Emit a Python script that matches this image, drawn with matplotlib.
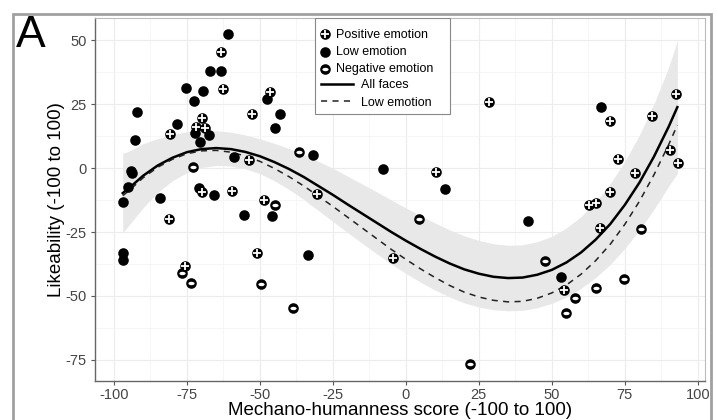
import numpy as np
import matplotlib
matplotlib.use("Agg")
import matplotlib.pyplot as plt
from matplotlib.patches import Rectangle
from matplotlib.path import Path
from matplotlib.legend_handler import HandlerTuple

plt.rcParams["font.family"] = ["Liberation Sans", "DejaVu Sans"]
plt.rcParams["axes.unicode_minus"] = False

# points
pos_x = [-63.3, -62.7, -80.8, -69.8, -71.9, -68.8, -46.6, -52.7, -53.7, -69.9, -59.4,
         -48.6, -30.6, -81.0, -75.5, -51.0, -4.5, 10.3, 28.4, 69.9, 84.2, 92.5, 72.6,
         78.6, 90.4, 93.2, 69.9, 62.7, 65.1, 66.6, 54.0]
pos_y = [45.2, 30.9, 13.3, 19.5, 16.0, 15.8, 29.7, 21.1, 3.0, -9.4, -8.9,
         -12.3, -10.1, -20.1, -38.3, -33.2, -35.2, -1.5, 25.8, 18.4, 20.5, 28.9, 3.5,
         -2.0, 7.0, 2.0, -9.3, -14.5, -13.7, -23.5, -47.7]

low_x = [-60.8, -67.0, -63.4, -75.3, -69.5, -72.6, -92.1, -78.4, -72.3, -67.6, -70.4,
         -92.9, -47.6, -43.2, -44.8, -31.9, -58.9, -94.2, -93.8, -95.2, -96.8, -84.2,
         -70.9, -65.6, -55.3, -46.0, -96.9, -96.9, -33.5, -7.9, 13.4, 41.8, 53.1, 67.0]
low_y = [52.3, 37.9, 37.9, 31.4, 30.0, 26.3, 21.8, 17.2, 13.7, 12.9, 10.2,
         10.9, 27.0, 21.1, 15.6, 5.1, 4.3, -1.2, -2.0, -7.4, -13.2, -11.7,
         -7.8, -10.4, -18.2, -18.8, -33.2, -36.1, -33.9, -0.4, -8.3, -20.7, -42.5, 23.7]

neg_x = [-36.7, -72.8, -44.9, -76.8, -73.5, -49.6, -38.7, 4.5, 21.9, 47.6, 57.9, 54.9,
         65.2, 74.7, 80.6]
neg_y = [6.3, 0.4, -14.4, -41.1, -45.0, -45.3, -54.7, -19.9, -76.6, -36.3, -50.7, -56.6,
         -46.8, -43.4, -23.9]

# fitted curves and band
curve_x = [-97, -95, -90, -85, -80, -75, -70, -65, -60, -55, -50, -45, -40, -35, -30,
           -25, -20, -15, -10, -5, 0, 5, 10, 15, 20, 25, 30, 35, 40, 45, 50, 55, 60,
           65, 70, 75, 80, 85, 90, 93]
all_y = [-9.8, -8.0, -3.0, 1.0, 4.0, 6.2, 7.4, 7.8, 7.4, 6.3, 4.6, 2.3, -0.4, -3.5, -7.0,
         -10.5, -14.2, -17.8, -21.4, -25.0, -28.4, -31.6, -34.6, -37.3, -39.6, -41.3,
         -42.5, -43.0, -42.8, -41.7, -39.8, -36.9, -33.0, -28.0, -21.9, -14.4, -5.7,
         4.5, 16.1, 23.8]
lowem_y = [-10.8, -9.0, -3.8, 0.3, 3.4, 5.6, 6.7, 6.9, 6.2, 4.7, 2.6, -0.2, -3.4, -7.0,
           -11.0, -15.0, -19.2, -23.4, -27.6, -31.8, -35.7, -39.4, -42.8, -45.9, -48.5,
           -50.4, -51.7, -52.3, -52.1, -50.9, -48.8, -45.7, -41.5, -36.2, -29.8, -22.0,
           -13.0, -2.6, 9.1, 16.8]
band_hi = [5.7, 6.5, 9.5, 11.5, 13.0, 14.2, 14.6, 14.6, 14.0, 12.9, 11.4, 9.6, 7.6, 5.3,
           2.6, -0.1, -3.2, -6.2, -9.3, -12.5, -15.6, -18.6, -21.5, -24.2, -26.5, -28.3,
           -29.6, -30.2, -30.0, -28.8, -26.7, -23.4, -19.0, -13.2, -6.1, 2.6, 12.9, 25.1,
           39.3, 49.8]
band_lo = [-25.3, -22.5, -15.5, -9.5, -5.0, -1.8, 0.2, 1.0, 0.8, -0.3, -2.2, -5.0, -8.4,
           -12.3, -16.6, -20.9, -25.2, -29.4, -33.5, -37.5, -41.2, -44.6, -47.7, -50.4,
           -52.7, -54.3, -55.4, -55.8, -55.6, -54.6, -52.9, -50.4, -47.0, -42.8, -37.7,
           -31.4, -24.3, -16.1, -7.1, -2.2]

xticks = [-100, -75, -50, -25, 0, 25, 50, 75, 100]
yticks = [-75, -50, -25, 0, 25, 50]

fig = plt.figure(figsize=(7.17, 4.2), dpi=100)
ax = fig.add_axes([0.1325, 0.093, 0.8505, 0.864])

ax.fill_between(curve_x, band_lo, band_hi, color="#e8e8e8", lw=0, zorder=1)
solid, = ax.plot(curve_x, all_y, color="black", lw=1.8, zorder=2)
dashed, = ax.plot(curve_x, lowem_y, color="#222222", lw=1.1, ls=(0, (4, 3.5)), zorder=2)

t = np.linspace(0, 2 * np.pi, 40)
ell = Path(np.column_stack([np.cos(t), 0.55 * np.sin(t)]))

p1 = ax.scatter(pos_x, pos_y, s=58, color="black", lw=0, zorder=3)
p2 = ax.scatter(pos_x, pos_y, s=40, marker="+", color="white", lw=1.3, zorder=4)
l1 = ax.scatter(low_x, low_y, s=58, color="black", lw=0, zorder=3)
n1 = ax.scatter(neg_x, neg_y, s=58, color="black", lw=0, zorder=3)
n2 = ax.scatter(neg_x, neg_y, s=20, marker=ell, color="white", lw=0, zorder=4)

ax.set_xlim(-106.5, 102.4)
ax.set_ylim(-83.2, 58.6)
ax.set_xticks(xticks)
ax.set_yticks(yticks)
ax.set_xticks([-87.5, -62.5, -37.5, -12.5, 12.5, 37.5, 62.5, 87.5], minor=True)
ax.set_yticks([-62.5, -37.5, -12.5, 12.5, 37.5], minor=True)
ax.grid(True, which="major", color="#ececec", lw=0.8, zorder=0)
ax.grid(True, which="minor", color="#f5f5f5", lw=0.6, zorder=0)
ax.set_axisbelow(True)
ax.tick_params(which="major", length=3, color="#555555", labelsize=10.5,
               labelcolor="#444444", pad=2)
ax.tick_params(axis="y", pad=3)
ax.tick_params(which="minor", length=0)
for side in ["left", "bottom"]:
    ax.spines[side].set_color("#666666")
    ax.spines[side].set_linewidth(1.0)
for side in ["top", "right"]:
    ax.spines[side].set_color("#bbbbbb")
    ax.spines[side].set_linewidth(0.8)

ax.set_xlabel("Mechano-humanness score (-100 to 100)", fontsize=13.5, labelpad=0)
ax.set_ylabel("Likeability (-100 to 100)", fontsize=13.5, labelpad=0)

# legend box made of two parts, like the ggplot one
box = Rectangle((0.3607, 0.7355), 0.2213, 0.2645, transform=ax.transAxes,
                facecolor="white", edgecolor="#888888", lw=0.8, zorder=4.5)
ax.add_patch(box)
leg1 = ax.legend([(p1, p2), l1, (n1, n2)], ["Positive emotion", "Low emotion", "Negative emotion"],
                 handler_map={tuple: HandlerTuple(ndivide=1)},
                 loc="upper left", bbox_to_anchor=(0.366, 0.978), frameon=False,
                 handlelength=0.7, handletextpad=0.55, labelspacing=0.42, fontsize=9,
                 borderaxespad=0, borderpad=0.2)
ax.add_artist(leg1)
leg2 = ax.legend([solid, dashed], ["All faces", "Low emotion"],
                 loc="upper left", bbox_to_anchor=(0.366, 0.838), frameon=False,
                 handlelength=2.6, handletextpad=0.6, labelspacing=0.42, fontsize=9,
                 borderaxespad=0, borderpad=0.2)

fig.text(0.022, 0.965, "A", fontsize=32, va="top", ha="left")
fig.add_artist(Rectangle((13 / 717, -0.05), 698 / 717, 1.05 - 14 / 420,
                         transform=fig.transFigure, fill=False, edgecolor="#a0a0a0", lw=2))

fig.savefig("out.png", dpi=100)
